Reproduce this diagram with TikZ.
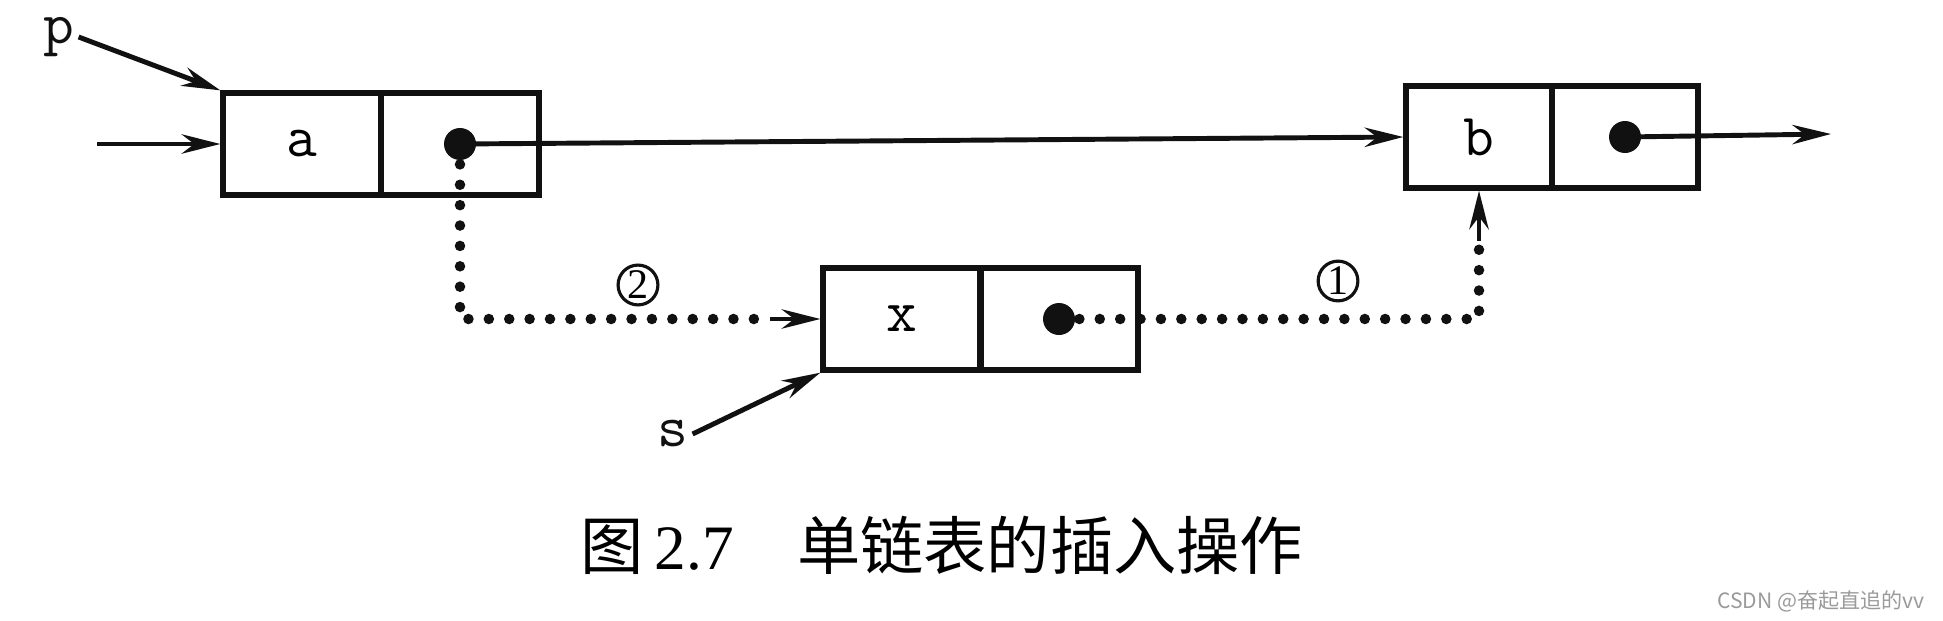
\documentclass[tikz,border=0pt]{standalone}
\usepackage{fontspec}
\setmainfont{Liberation Serif}
\newfontfamily\cjk{Noto Sans CJK SC}
\usetikzlibrary{arrows.meta,positioning,calc}
\definecolor{ink}{HTML}{111111}
\definecolor{wmgray}{HTML}{9A9A9A}
\tikzset{
  cell/.style={draw=ink,line width=1.5pt,minimum width=1.58cm,minimum height=1.02cm,inner sep=0pt,font=\fontsize{17}{20}\selectfont\ttfamily},
  ptr/.style={circle,fill=ink,minimum size=0.32cm,inner sep=0pt},
  arr/.style={-{Stealth[length=11pt,width=5.5pt]},line width=1.4pt,draw=ink},
  dots/.style={draw=ink,line width=3pt,line cap=round,dash pattern=on 0pt off 5.8pt},
  lbl/.style={font=\fontsize{17}{20}\selectfont\ttfamily,text=ink,inner sep=1pt},
  num/.style={circle,draw=ink,line width=0.9pt,inner sep=0.5pt,minimum size=0.38cm,font=\fontsize{12}{12}\selectfont},
}
\begin{document}
\begin{tikzpicture}
  \useasboundingbox (0,0) rectangle (19.43,6.2);
  \node[cell] (a) at (3.02,4.76) {a};
  \node[cell] (ap) at (4.60,4.76) {};
  \node[cell,minimum width=1.46cm] (b) at (14.79,4.83) {b};
  \node[cell,minimum width=1.46cm] (bp) at (16.25,4.83) {};
  \node[cell] (x) at (9.02,3.01) {x};
  \node[cell] (xp) at (10.59,3.01) {};
  \node[lbl] (p) at (0.59,5.83) {p};
  \node[lbl] (s) at (6.73,1.86) {s};
  \coordinate (in) at (0.97,4.76);
  \coordinate (bout) at (18.31,4.86);
  \coordinate (ain) at ($(x.west)+(-0.5,0)$);
  \coordinate (bin) at ($(b.south)+(0,-0.5)$);
  \draw[arr] (p.east) -- (a.north west);
  \draw[arr] (in) -- (a.west);
  \draw[arr] (ap.center) -- (b.west);
  \draw[arr] (bp.center) -- (bout);
  \draw[arr] (s.east) -- (x.south west);
  \draw[dots] (ap.center) |- (ain);
  \draw[arr] (ain) -- (x.west);
  \draw[dots] (xp.center) -| (bin);
  \draw[arr] (bin) -- (b.south);
  \node[ptr] (ad) at (ap.center) {};
  \node[ptr] (bd) at (bp.center) {};
  \node[ptr] (xd) at (xp.center) {};
  \node[num] (n2) at (6.38,3.35) {2};
  \node[num] (n1) at (13.38,3.39) {1};
  \node[font=\fontsize{18}{22}\selectfont] (cap) at (9.42,0.75) {{\cjk 图}\,2.7\hspace{1em}{\cjk 单链表的插入操作}};
  \node[font=\fontsize{6}{7}\selectfont\cjk,text=wmgray,anchor=east] (wm) at (19.37,0.19) {CSDN @奋起直追的vv};
\end{tikzpicture}
\end{document}
